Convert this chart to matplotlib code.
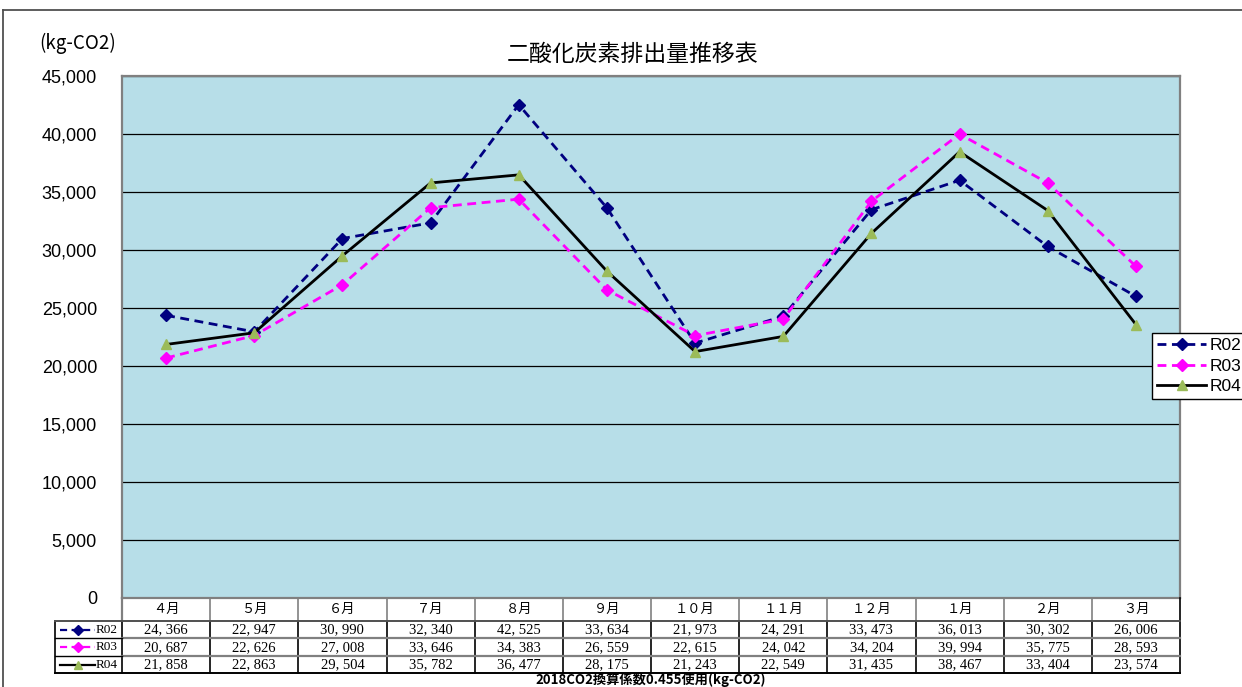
import matplotlib
matplotlib.use("Agg")
import matplotlib.pyplot as plt
from matplotlib.lines import Line2D
import numpy as np

# ---------------- data ----------------
months = ["４月", "５月", "６月", "７月", "８月", "９月",
          "１０月", "１１月", "１２月", "１月", "２月", "３月"]
r02 = [24366, 22947, 30990, 32340, 42525, 33634, 21973, 24291, 33473, 36013, 30302, 26006]
r03 = [20687, 22626, 27008, 33646, 34383, 26559, 22615, 24042, 34204, 39994, 35775, 28593]
r04 = [21858, 22863, 29504, 35782, 36477, 28175, 21243, 22549, 31435, 38467, 33404, 23574]
series_names = ["R02", "R03", "R04"]
yticks = [0, 5000, 10000, 15000, 20000, 25000, 30000, 35000, 40000, 45000]
title = "二酸化炭素排出量推移表"
unit_label = "(kg-CO2)"
footer = "2018CO2換算係数0.455使用(kg-CO2)"

# ---------------- layout ----------------
W, H = 1242, 687
fig = plt.figure(figsize=(W / 100, H / 100), dpi=100)
fig.patch.set_facecolor("white")

def fx(px):
    return px / W

def fy(py):
    return 1 - py / H

L, R, T, B = 122, 1180, 76, 598
ax = fig.add_axes([fx(L), fy(B), (R - L) / W, (B - T) / H])
ax.set_facecolor("#B7DEE8")

x = np.arange(len(months))
styles = [
    dict(color="#000080", ls=(0, (3.2, 2.0)), marker="D", mfc="#000080", mec="#000080", ms=6, lw=2.0),
    dict(color="#FF00FF", ls=(0, (3.2, 2.0)), marker="D", mfc="#FF00FF", mec="#FF00FF", ms=6, lw=2.0),
    dict(color="black", ls="-", marker="^", mfc="#9BBB59", mec="#9BBB59", ms=7.5, lw=2.0),
]
handles = []
for vals, name, st in zip([r02, r03, r04], series_names, styles):
    h, = ax.plot(x, vals, label=name, zorder=3, **st)
    handles.append(h)

ax.set_xlim(-0.5, len(months) - 0.5)
ax.set_ylim(yticks[0], yticks[-1])
ax.set_yticks(yticks)
ax.set_yticklabels([f"{v:,}" for v in yticks], fontfamily="Liberation Sans", fontsize=13)
ax.set_xticks([])
ax.tick_params(axis="y", length=0, pad=18)
ax.yaxis.grid(True, color="black", lw=0.9)
ax.set_axisbelow(True)
for s in ax.spines.values():
    s.set_color("#808080")
    s.set_linewidth(1.6)

# title & unit
fig.text(fx(633), fy(54), title, ha="center", va="center",
         fontfamily="Noto Sans CJK JP", fontsize=16.5)
fig.text(fx(39), fy(43), unit_label, ha="left", va="center",
         fontfamily="Noto Sans CJK JP", fontsize=13.5)

# ---------------- data table ----------------
TB = 673
tax = fig.add_axes([fx(L), fy(TB), (R - L) / W, (TB - B) / H])
tax.set_xlim(-0.5, len(months) - 0.5)
tax.set_ylim(TB - B, 0)
tax.axis("off")
colw = (R - L) / len(months)

def xd(px):
    return -0.5 + (px - L) / colw

rows = [0, 23, 40, 58, 75]
xl = xd(55)
n = len(months)
kw = dict(clip_on=False)
# header verticals (gray)
for i in range(1, n):
    tax.plot([i - 0.5, i - 0.5], [rows[0], rows[1]], color="#808080", lw=1.2, **kw)
tax.plot([-0.5, -0.5], [rows[0], rows[1]], color="#808080", lw=1.6, **kw)
tax.plot([n - 0.5, n - 0.5], [rows[0], rows[4]], color="black", lw=1.2, **kw)
# data verticals (black)
for i in range(0, n):
    tax.plot([i - 0.5, i - 0.5], [rows[1], rows[4]], color="black", lw=1.2, **kw)
tax.plot([xl, xl], [rows[1], rows[4]], color="black", lw=1.2, **kw)
# horizontals
tax.plot([xl, n - 0.5], [rows[1], rows[1]], color="#505050", lw=1.4, **kw)
for r in rows[2:4]:
    tax.plot([-0.5, n - 0.5], [r, r], color="#808080", lw=1.6, **kw)
    tax.plot([xl, -0.5], [r, r], color="black", lw=1.0, **kw)
tax.plot([xl, n - 0.5], [rows[4], rows[4]], color="black", lw=1.4, **kw)

for i, m in enumerate(months):
    tax.text(i, (rows[0] + rows[1]) / 2, m, ha="center", va="center",
             fontfamily="Noto Sans CJK JP", fontsize=9.5, **kw)

for k, (vals, name, st) in enumerate(zip([r02, r03, r04], series_names, styles)):
    yc = (rows[k + 1] + rows[k + 2]) / 2
    for i, v in enumerate(vals):
        tax.text(i, yc + 0.5, f"{v:,}".replace(",", ", "), ha="center", va="center",
                 fontfamily="Liberation Serif", fontsize=10.5, **kw)
    st2 = dict(st)
    st2["ms"] = st["ms"] * 0.85
    st2["lw"] = 1.6
    st2["markevery"] = [1]
    tax.plot([xd(60), (xd(60) + xd(95)) / 2, xd(95)], [yc, yc, yc], **st2, **kw)
    tax.text(xd(96), yc + 0.5, name, ha="left", va="center",
             fontfamily="Liberation Serif", fontsize=9.5, **kw)

fig.text(fx(651), fy(680), footer, ha="center", va="center",
         fontfamily="Noto Sans CJK JP", fontsize=9.5, fontweight="bold")

# ---------------- legend ----------------
leg = fig.legend(handles, series_names, loc="upper left",
                 bbox_to_anchor=(fx(1152), fy(333)), frameon=True, fancybox=False,
                 edgecolor="black", framealpha=1, borderpad=0.3, labelspacing=0.3,
                 handlelength=2.8, handletextpad=0.2, borderaxespad=0,
                 prop=dict(family="Liberation Sans", size=12.5))
leg.get_frame().set_linewidth(1.0)

# ---------------- outer frame ----------------
fig.add_artist(Line2D([fx(3), fx(3)], [fy(10), 0], color="#505050", lw=1.3))
fig.add_artist(Line2D([fx(3), 1], [fy(10), fy(10)], color="#505050", lw=1.3))

fig.savefig("out.png", dpi=100)
